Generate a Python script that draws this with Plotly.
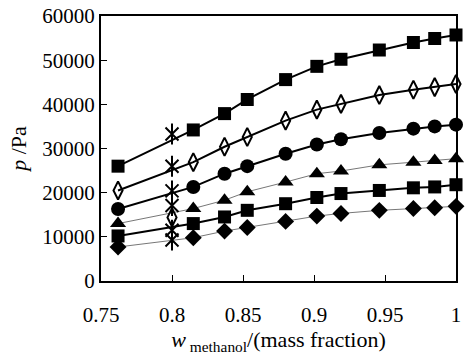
import plotly.graph_objects as go

# mass fraction of methanol
w = [0.762, 0.815, 0.837, 0.853, 0.880, 0.902, 0.919, 0.946, 0.970, 0.985, 1.000]

p_sq_top = [26000, 34200, 37900, 41100, 45600, 48600, 50200, 52300, 54000, 54900, 55700]
p_dia_open = [20500, 26900, 30400, 32600, 36300, 38800, 40100, 42100, 43300, 43900, 44600]
p_circle = [16300, 21300, 24300, 26000, 28800, 30900, 32100, 33500, 34500, 35000, 35400]
p_tri = [13000, 16400, 18300, 20200, 22400, 24300, 24900, 26300, 26900, 27300, 27700]
p_sq_low = [10200, 13000, 14500, 16000, 17500, 18900, 19800, 20500, 21100, 21300, 21800]
p_dia = [7700, 9800, 11300, 12100, 13500, 14700, 15300, 16000, 16400, 16600, 16900]

# literature points at w = 0.8
w_lit = [0.8, 0.8, 0.8, 0.8, 0.8, 0.8]
p_lit = [33300, 26000, 20400, 17100, 11500, 9300]
w_lit2 = [0.8]
p_lit2 = [14400]

x_ticks = [0.75, 0.8, 0.85, 0.9, 0.95, 1.0]
x_ticktext = ["0.75", "0.8", "0.85", "0.9", "0.95", "1"]
y_ticks = [0, 10000, 20000, 30000, 40000, 50000, 60000]
y_ticktext = ["0", "10000", "20000", "30000", "40000", "50000", "60000"]

FONT = "Liberation Serif"

fig = go.Figure()

series = [
    (p_sq_top, "square", 13, "black", 2),
    (p_dia_open, "diamond-tall-open", 13, "black", 2),
    (p_circle, "circle", 14, "black", 2),
    (p_tri, "triangle-up", 14, "#777777", 1),
    (p_sq_low, "square", 13, "black", 2),
    (p_dia, "diamond", 13, "#777777", 1),
]
for ys, sym, size, lcol, lw in series:
    mk = dict(symbol=sym, size=size, color="black")
    if sym.endswith("-open"):
        mk["line"] = dict(width=2, color="black")
    fig.add_trace(go.Scatter(x=w, y=ys, mode="lines+markers",
                             line=dict(color=lcol, width=lw),
                             marker=mk, cliponaxis=False, showlegend=False))

fig.add_trace(go.Scatter(x=w_lit, y=p_lit, mode="markers",
                         marker=dict(symbol="x-thin-open", size=13, color="black",
                                     line=dict(width=2, color="black")),
                         cliponaxis=False, showlegend=False))
fig.add_trace(go.Scatter(x=w_lit, y=p_lit, mode="markers",
                         marker=dict(symbol="line-ns-open", size=15, color="black",
                                     line=dict(width=2, color="black")),
                         cliponaxis=False, showlegend=False))
fig.add_trace(go.Scatter(x=w_lit2, y=p_lit2, mode="markers",
                         marker=dict(symbol="diamond-tall-open", size=13, color="black",
                                     line=dict(width=2, color="black")),
                         cliponaxis=False, showlegend=False))

fig.update_layout(
    width=465, height=356,
    margin=dict(l=101, r=4, t=15, b=75),
    paper_bgcolor="white", plot_bgcolor="white",
    font=dict(family=FONT, size=21, color="black"),
    xaxis=dict(range=[0.75, 1.0], tickvals=x_ticks, ticktext=x_ticktext,
               ticks="inside", ticklen=6, tickwidth=1, tickcolor="black",
               ticklabelstandoff=14,
               showline=True, linecolor="black", linewidth=2, mirror=True,
               showgrid=False, zeroline=False,
               title=dict(text="<i>w</i><sub> methanol</sub>/(mass fraction)",
                          font=dict(size=22), standoff=2)),
    yaxis=dict(range=[0, 60000], tickvals=y_ticks, ticktext=y_ticktext,
               ticks="inside", ticklen=6, tickwidth=1, tickcolor="black",
               showline=True, linecolor="black", linewidth=2, mirror=True,
               showgrid=False, zeroline=False,
               title=dict(text="<i>p</i> /Pa", font=dict(size=22), standoff=10)),
)

fig.write_html("out.html", config={"displayModeBar": False},
               post_script="document.body.style.margin='0px';")
